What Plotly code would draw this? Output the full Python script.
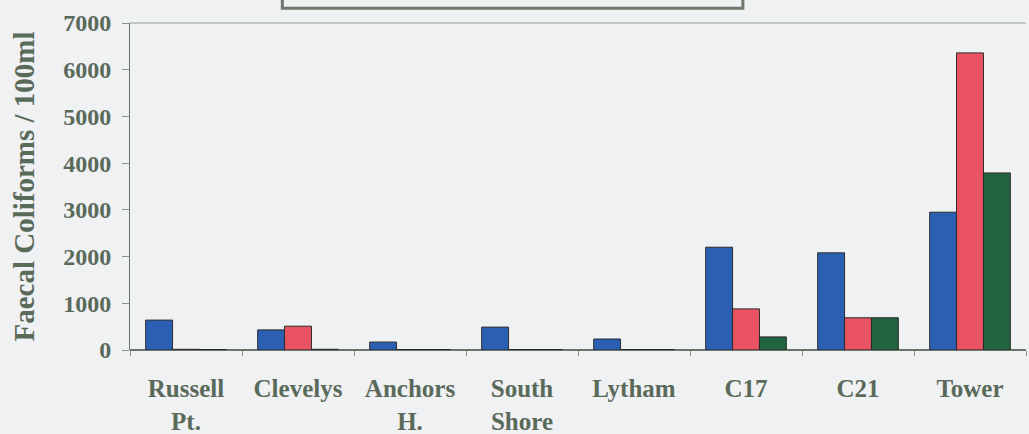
import plotly.graph_objects as go

categories = ["Russell<br>Pt.", "Clevelys", "Anchors<br>H.", "South<br>Shore", "Lytham", "C17", "C21", "Tower"]
series_blue = [640, 430, 170, 490, 235, 2200, 2080, 2950]
series_red = [15, 510, 10, 10, 10, 880, 690, 6360]
series_green = [10, 15, 10, 10, 10, 280, 690, 3790]
y_ticks = [0, 1000, 2000, 3000, 4000, 5000, 6000, 7000]

text_col = "#5a6a5a"
font_fam = "Liberation Serif"
bg = "#f0f1f3"

fig = go.Figure()
for vals, col in [(series_blue, "#2b5fb4"), (series_red, "#ea5361"), (series_green, "#22643f")]:
    fig.add_trace(go.Bar(x=categories, y=vals, marker=dict(color=col, line=dict(color="#2a2a2a", width=1))))

fig.update_layout(
    width=1029, height=434,
    margin=dict(l=130, r=3, t=23, b=84, autoexpand=False),
    paper_bgcolor=bg, plot_bgcolor=bg,
    showlegend=False,
    barmode="group", bargap=0.28, bargroupgap=0.0,
    font=dict(family=font_fam, color=text_col, size=24),
    xaxis=dict(
        tickfont=dict(family=font_fam, size=25, color=text_col, weight="bold"),
        showline=False, tickson="boundaries", ticks="outside", ticklen=5,
        ticklabelstandoff=21,
        tickcolor="#8a948a", showgrid=False, zeroline=False, automargin=False,
    ),
    yaxis=dict(
        range=[0, 7000], tickvals=y_ticks,
        tickfont=dict(family=font_fam, size=24, color=text_col, weight="bold"),
        showline=True, linecolor="#6a756a", linewidth=1,
        ticks="outside", ticklen=7, tickcolor="#8a948a", ticklabelstandoff=6,
        showgrid=False, zeroline=True, zerolinecolor="#6a756a", zerolinewidth=1.5,
        automargin=False,
        title=dict(text="Faecal Coliforms / 100ml", font=dict(family=font_fam, size=29, color=text_col, weight="bold"), standoff=20),
    ),
)

# top border line of plot area
fig.add_shape(type="line", xref="paper", yref="paper", x0=0, x1=1, y0=1, y1=1,
              line=dict(color="#9aa29a", width=1))
# partially visible legend box at top
fig.add_shape(type="rect", xref="paper", yref="paper", x0=0.17, x1=0.684, y0=1.045, y1=1.3,
              line=dict(color="#6b786b", width=3), fillcolor=bg)

fig.write_html("out.html", config={"displayModeBar": False},
               post_script="document.body.style.margin='0';document.body.style.overflow='hidden';")
